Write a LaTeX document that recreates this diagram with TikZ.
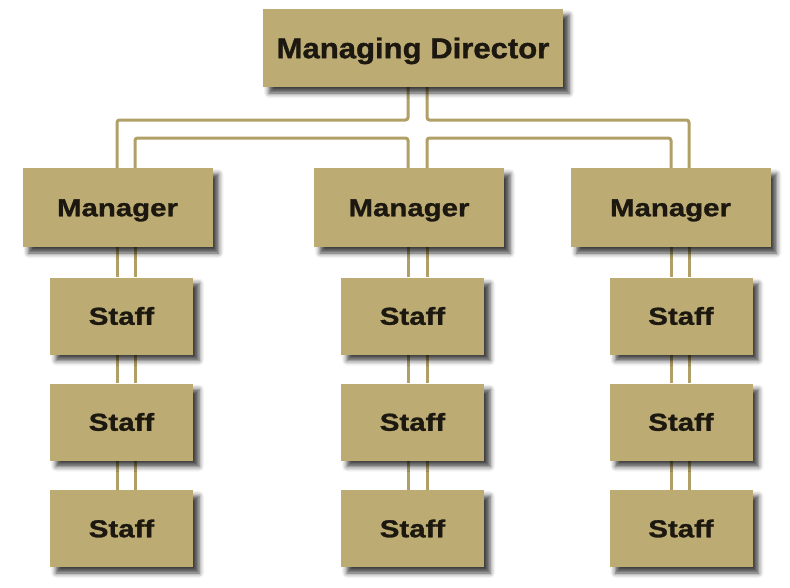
\documentclass[tikz,border=0pt]{standalone}
\usepackage{fontspec}
\newfontfamily\mdfont{Liberation Sans}[FakeStretch=1.09, FakeBold=1.2]
\newfontfamily\boxfont{Liberation Sans}[FakeStretch=1.2, FakeBold=1.2]
\usetikzlibrary{shadows.blur,backgrounds}
\definecolor{tan}{RGB}{188,172,116}
\definecolor{linktan}{RGB}{176,160,104}
\definecolor{ink}{RGB}{28,24,16}
\tikzset{
  box/.style={rectangle, fill=tan, text=ink, inner sep=0pt,
    blur shadow={shadow xshift=6pt, shadow yshift=-6pt,
      shadow blur radius=5pt, shadow opacity=75}},
  topbox/.style={box, minimum width=300pt, minimum height=78pt,
    font=\mdfont\bfseries\fontsize{28.5}{30}\selectfont,
    text height=20.4pt, text depth=0pt},
  mgrbox/.style={box, minimum width=190pt, minimum height=79pt,
    font=\boxfont\bfseries\fontsize{24.5}{26}\selectfont,
    text height=17.5pt, text depth=0pt},
  staffbox/.style={box, minimum width=143pt, minimum height=77pt,
    font=\boxfont\bfseries\fontsize{24.5}{26}\selectfont,
    text height=17.5pt, text depth=0pt},
  link/.style={draw=linktan, line width=3pt, rounded corners=2.5pt}
}
\begin{document}
\begin{tikzpicture}[x=1pt, y=-1pt]
\useasboundingbox (0,0) rectangle (790,587);

% boxes
\node[topbox] (md) at (413,48) {Managing Director};

\node[mgrbox] (m1) at (117.5,207.5) {Manager};
\node[mgrbox] (m2) at (409,207.5) {Manager};
\node[mgrbox, minimum width=200pt] (m3) at (670.5,207.5) {Manager};

\node[staffbox] (s11) at (121.5,316) {Staff};
\node[staffbox] (s12) at (121.5,422) {Staff};
\node[staffbox] (s13) at (121.5,528.5) {Staff};
\node[staffbox] (s21) at (412.5,316) {Staff};
\node[staffbox] (s22) at (412.5,422) {Staff};
\node[staffbox] (s23) at (412.5,528.5) {Staff};
\node[staffbox] (s31) at (681,316) {Staff};
\node[staffbox] (s32) at (681,422) {Staff};
\node[staffbox] (s33) at (681,528.5) {Staff};

% rails of the double connectors and the two bus levels
\coordinate (c1a) at (117,0);
\coordinate (c1b) at (135,0);
\coordinate (c2a) at (408,0);
\coordinate (c2b) at (427,0);
\coordinate (c3a) at (671,0);
\coordinate (c3b) at (689,0);
\coordinate (busA) at (0,120);
\coordinate (busB) at (0,138);

\begin{pgfonlayer}{background}
  % director to managers
  \draw[link] (md.south -| c2a) |- (busA -| c1a) -- (m1.north -| c1a);
  \draw[link] (md.south -| c2b) |- (busA -| c3b) -- (m3.north -| c3b);
  \draw[link] (m1.north -| c1b) |- (busB -| c2a) -- (m2.north -| c2a);
  \draw[link] (m2.north -| c2b) |- (busB -| c3a) -- (m3.north -| c3a);

  % managers to staff, staff to staff
  \foreach \col/\ra/\rb in {1/c1a/c1b, 2/c2a/c2b, 3/c3a/c3b} {
    \foreach \up/\dn in {m\col/s\col1, s\col1/s\col2, s\col2/s\col3} {
      \draw[link] (\up.south -| \ra) -- (\dn.north -| \ra);
      \draw[link] (\up.south -| \rb) -- (\dn.north -| \rb);
    }
  }
\end{pgfonlayer}
\end{tikzpicture}
\end{document}
